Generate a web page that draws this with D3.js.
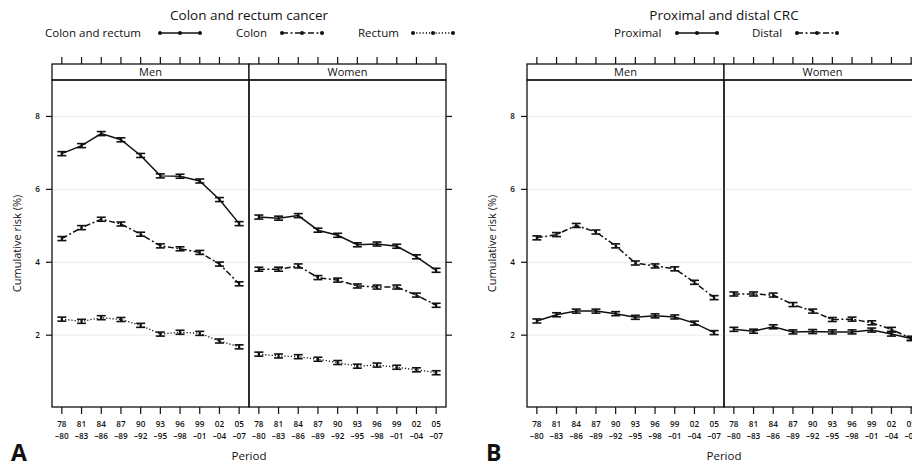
<!DOCTYPE html>
<html>
<head>
<meta charset="utf-8">
<script src="https://cdn.jsdelivr.net/npm/d3@7"></script>
<style>
  html, body { margin: 0; padding: 0; background: #fff; }
  svg { display: block; font-family: "Open Sans", "Noto Sans", sans-serif; }
</style>
</head>
<body>
<svg id="chart" width="912" height="466"></svg>
<script>
// Period labels (two-line ticks)
const periodStart = ["78", "81", "84", "87", "90", "93", "96", "99", "02", "05"];
const periodEnd   = ["–80", "–83", "–86", "–89", "–92", "–95", "–98", "–01", "–04", "–07"];
const sexes = ["Men", "Women"];
const yTicks = [2, 4, 6, 8];

// Panel A: cumulative risk (%) of colon and rectum cancer
const menColonRectum   = [6.98, 7.20, 7.53, 7.36, 6.93, 6.37, 6.36, 6.23, 5.72, 5.06];
const menColon         = [4.65, 4.95, 5.18, 5.05, 4.77, 4.45, 4.37, 4.27, 3.95, 3.41];
const menRectum        = [2.44, 2.38, 2.48, 2.43, 2.27, 2.03, 2.08, 2.05, 1.84, 1.68];
const womenColonRectum = [5.24, 5.21, 5.28, 4.88, 4.74, 4.48, 4.50, 4.44, 4.15, 3.78];
const womenColon       = [3.81, 3.81, 3.90, 3.58, 3.51, 3.35, 3.32, 3.32, 3.10, 2.82];
const womenRectum      = [1.48, 1.43, 1.41, 1.34, 1.25, 1.15, 1.18, 1.12, 1.05, 0.97];

// Panel B: cumulative risk (%) of proximal and distal CRC
const menProximal   = [2.39, 2.56, 2.66, 2.66, 2.59, 2.49, 2.53, 2.50, 2.33, 2.07];
const menDistal     = [4.67, 4.76, 5.01, 4.83, 4.45, 3.98, 3.90, 3.82, 3.45, 3.03];
const womenProximal = [2.16, 2.11, 2.23, 2.09, 2.10, 2.09, 2.09, 2.14, 2.03, 1.91];
const womenDistal   = [3.13, 3.13, 3.10, 2.84, 2.66, 2.43, 2.44, 2.34, 2.16, 1.91];

// Half-width of the 95% confidence interval (%)
const ciHalfWidth = 0.055;

// Line styles
const styles = {
  solid:   { dash: null,            width: 1.5 },
  dashdot: { dash: "6,2.5,2,2.5",   width: 1.5 },
  dotted:  { dash: "1.2,2",         width: 1.3 }
};

const panels = [
  {
    letter: "A", title: "Colon and rectum cancer", left: 52,
    legend: [
      { name: "Colon and rectum", style: "solid",   tx: 45,  sx: 160 },
      { name: "Colon",            style: "dashdot", tx: 236, sx: 282 },
      { name: "Rectum",           style: "dotted",  tx: 358, sx: 413 }
    ],
    series: [
      { style: "solid",   values: [menColonRectum, womenColonRectum] },
      { style: "dashdot", values: [menColon, womenColon] },
      { style: "dotted",  values: [menRectum, womenRectum] }
    ]
  },
  {
    letter: "B", title: "Proximal and distal CRC", left: 527,
    legend: [
      { name: "Proximal", style: "solid",   tx: 614, sx: 677 },
      { name: "Distal",   style: "dashdot", tx: 752, sx: 797 }
    ],
    series: [
      { style: "solid",   values: [menProximal, womenProximal] },
      { style: "dashdot", values: [menDistal, womenDistal] }
    ]
  }
];

const svg = d3.select("#chart");
const ink = "#111";
const stripTop = 64, frameTop = 80, frameBottom = 407, panelW = 197;

const y = d3.scaleLinear().domain([0.03, 9]).range([frameBottom, frameTop]);

panels.forEach(p => {
  const g = svg.append("g");
  const centre = p.left + panelW;

  // Title and legend
  g.append("text").attr("x", centre).attr("y", 20).attr("text-anchor", "middle")
    .attr("font-size", 13.5).attr("fill", ink).text(p.title);

  p.legend.forEach(l => {
    g.append("text").attr("x", l.tx).attr("y", 37).attr("font-size", 11.5)
      .attr("fill", ink).text(l.name);
    const st = styles[l.style];
    const ls = d3.scaleLinear().domain([0, 2]).range([l.sx, l.sx + 40]);
    g.append("line").attr("x1", ls(0)).attr("x2", ls(2)).attr("y1", 33).attr("y2", 33)
      .attr("stroke", ink).attr("stroke-width", st.width)
      .attr("stroke-dasharray", st.dash);
    g.selectAll(null).data([0, 1, 2]).join("circle")
      .attr("cx", d => ls(d)).attr("cy", 33).attr("r", 2).attr("fill", ink);
  });

  sexes.forEach((sex, si) => {
    const left = p.left + si * panelW;
    const x = d3.scaleLinear().domain([0.5, 10.5]).range([left, left + panelW]);
    const idx = d3.range(1, 11);
    const pg = g.append("g");

    // Faint reference lines
    pg.selectAll(null).data(yTicks).join("line")
      .attr("x1", left).attr("x2", left + panelW)
      .attr("y1", d => y(d)).attr("y2", d => y(d))
      .attr("stroke", "#ebebeb").attr("stroke-width", 1);

    // Strip
    pg.append("rect").attr("x", left).attr("y", stripTop)
      .attr("width", panelW).attr("height", frameTop - stripTop)
      .attr("fill", "#fff").attr("stroke", ink).attr("stroke-width", 1.3);
    pg.append("text").attr("x", left + panelW / 2).attr("y", stripTop + 12)
      .attr("text-anchor", "middle").attr("font-size", 11).attr("fill", ink).text(sex);

    // Frame
    pg.append("rect").attr("x", left).attr("y", frameTop)
      .attr("width", panelW).attr("height", frameBottom - frameTop)
      .attr("fill", "none").attr("stroke", ink).attr("stroke-width", 1.3);

    // Bottom axis with two-line period labels
    const bottom = pg.append("g").attr("transform", `translate(0,${frameBottom})`);
    bottom.selectAll("line").data(idx).join("line")
      .attr("x1", d => x(d)).attr("x2", d => x(d)).attr("y1", 0).attr("y2", 7)
      .attr("stroke", ink).attr("stroke-width", 1.2);
    const lbl = bottom.selectAll("text").data(idx).join("text")
      .attr("text-anchor", "middle").attr("font-size", 8.2).attr("font-weight", 600)
      .attr("fill", ink);
    lbl.append("tspan").attr("x", d => x(d)).attr("y", 20).text(d => periodStart[d - 1]);
    lbl.append("tspan").attr("x", d => x(d)).attr("y", 32).text(d => periodEnd[d - 1]);

    // Top ticks above the strip
    pg.selectAll(null).data(idx).join("line")
      .attr("x1", d => x(d)).attr("x2", d => x(d))
      .attr("y1", stripTop).attr("y2", stripTop - 7)
      .attr("stroke", ink).attr("stroke-width", 1.2);

    // Series: lines and confidence-interval bars
    p.series.forEach(s => {
      const vals = s.values[si];
      const st = styles[s.style];
      const line = d3.line().x((d, i) => x(i + 1)).y(d => y(d));
      pg.append("path").datum(vals).attr("d", line)
        .attr("fill", "none").attr("stroke", ink).attr("stroke-width", st.width)
        .attr("stroke-dasharray", st.dash);
      const bars = pg.selectAll(null).data(vals).join("g");
      bars.append("line")
        .attr("x1", (d, i) => x(i + 1)).attr("x2", (d, i) => x(i + 1))
        .attr("y1", d => y(d - ciHalfWidth)).attr("y2", d => y(d + ciHalfWidth))
        .attr("stroke", ink).attr("stroke-width", 2.2);
      [-1, 1].forEach(sign => {
        bars.append("line")
          .attr("x1", (d, i) => x(i + 1) - 4.5).attr("x2", (d, i) => x(i + 1) + 4.5)
          .attr("y1", d => y(d + sign * ciHalfWidth)).attr("y2", d => y(d + sign * ciHalfWidth))
          .attr("stroke", ink).attr("stroke-width", 1.6);
      });
    });
  });

  // Left y axis with labels, right y ticks
  const ya = g.append("g");
  ya.selectAll(null).data(yTicks).join("line")
    .attr("x1", p.left - 6).attr("x2", p.left)
    .attr("y1", d => y(d)).attr("y2", d => y(d)).attr("stroke", ink).attr("stroke-width", 1.2);
  ya.selectAll(null).data(yTicks).join("text")
    .attr("x", p.left - 12).attr("y", d => y(d) + 3).attr("text-anchor", "end")
    .attr("font-size", 8.2).attr("font-weight", 600).attr("fill", ink).text(d => d);
  const right = p.left + 2 * panelW;
  ya.selectAll(null).data(yTicks).join("line")
    .attr("x1", right).attr("x2", right + 6)
    .attr("y1", d => y(d)).attr("y2", d => y(d)).attr("stroke", ink).attr("stroke-width", 1.2);

  // Axis titles
  g.append("text")
    .attr("transform", `translate(${p.left - 31},${(frameTop + frameBottom) / 2}) rotate(-90)`)
    .attr("text-anchor", "middle").attr("font-size", 11).attr("fill", ink)
    .text("Cumulative risk (%)");
  g.append("text").attr("x", centre).attr("y", 460).attr("text-anchor", "middle")
    .attr("font-size", 11.5).attr("fill", ink).text("Period");

  // Panel letter
  g.append("text").attr("x", p.left - 41).attr("y", 461)
    .attr("font-size", 23).attr("font-weight", "bold").attr("fill", ink).text(p.letter);
});
</script>
</body>
</html>
